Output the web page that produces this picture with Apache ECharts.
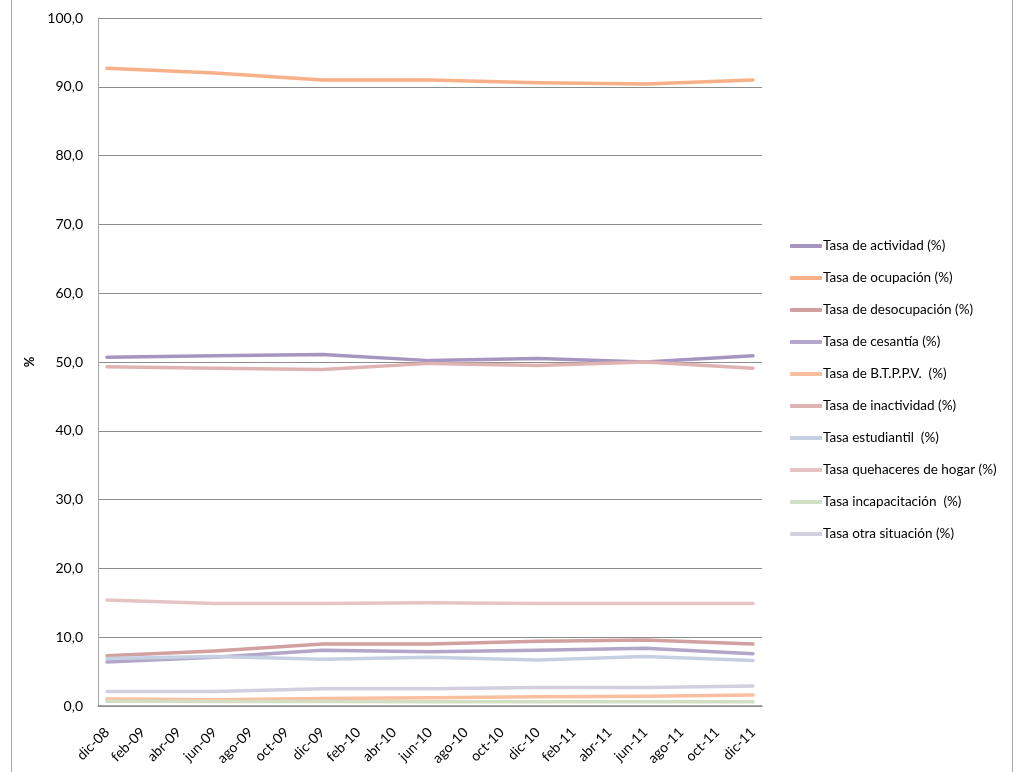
<!DOCTYPE html>
<html>
<head>
<meta charset="utf-8">
<script src="https://cdn.jsdelivr.net/npm/echarts@6/dist/echarts.min.js"></script>
<style>
  html, body { margin: 0; padding: 0; background: #fff; }
  #wrap { position: relative; width: 1015px; height: 772px; }
  #chart { position: absolute; left: 0; top: 0; width: 1015px; height: 772px; }
  #frame { position: absolute; left: 11px; top: 0; width: 1000px; height: 772px;
           border-left: 1px solid #a6a6a6; border-right: 1px solid #a6a6a6; pointer-events: none; }
</style>
</head>
<body>
<div id="wrap"><div id="chart"></div><div id="frame"></div></div>
<script>
// Monthly categories (labels shown every 2 months), data every 6 months
const months = ['dic-08','ene-09','feb-09','mar-09','abr-09','may-09','jun-09','jul-09','ago-09','sep-09','oct-09','nov-09',
  'dic-09','ene-10','feb-10','mar-10','abr-10','may-10','jun-10','jul-10','ago-10','sep-10','oct-10','nov-10',
  'dic-10','ene-11','feb-11','mar-11','abr-11','may-11','jun-11','jul-11','ago-11','sep-11','oct-11','nov-11','dic-11'];
const obsMonths = ['dic-08','jun-09','dic-09','jun-10','dic-10','jun-11','dic-11'];

const seriesNames = ['Tasa de actividad (%)','Tasa de ocupación (%)','Tasa de desocupación (%)','Tasa de cesantía (%)',
  'Tasa de B.T.P.P.V.  (%)','Tasa de inactividad (%)','Tasa estudiantil  (%)','Tasa quehaceres de hogar (%)',
  'Tasa incapacitación  (%)','Tasa otra situación (%)'];

const actividad      = [50.7, 50.9, 51.1, 50.2, 50.5, 50.0, 50.9];
const ocupacion      = [92.7, 92.0, 91.0, 91.0, 90.6, 90.4, 91.0];
const desocupacion   = [7.3, 8.0, 9.0, 9.0, 9.4, 9.6, 9.0];
const cesantia       = [6.4, 7.1, 8.1, 7.9, 8.1, 8.4, 7.6];
const btppv          = [1.0, 0.9, 1.1, 1.2, 1.35, 1.4, 1.6];
const inactividad    = [49.3, 49.1, 48.9, 49.8, 49.5, 50.0, 49.1];
const estudiantil    = [6.9, 7.2, 6.8, 7.1, 6.7, 7.2, 6.6];
const quehaceres     = [15.4, 14.9, 14.9, 15.0, 14.9, 14.9, 14.9];
const incapacitacion = [0.7, 0.65, 0.65, 0.6, 0.6, 0.6, 0.6];
const otraSituacion  = [2.1, 2.1, 2.5, 2.5, 2.7, 2.7, 2.9];

const colors = ['#a596c0','#f8b088','#d3a0a0','#b2a6c9','#f9bf9f','#e0b3b3','#c6d0e3','#e6c4c4','#d3dfc3','#d4cfe0'];

const allValues = [actividad, ocupacion, desocupacion, cesantia, btppv, inactividad, estudiantil, quehaceres, incapacitacion, otraSituacion];

function toMonthly(vals) {
  return months.map(m => { const i = obsMonths.indexOf(m); return i >= 0 ? vals[i] : null; });
}

const chart = echarts.init(document.getElementById('chart'), null, { renderer: 'canvas' });
const FONT = 'Lato';
chart.setOption({
  animation: false,
  color: colors,
  grid: { left: 98, right: 253, top: 18, bottom: 66, containLabel: false },
  legend: {
    orient: 'vertical', left: 785, top: 233,
    itemWidth: 32, itemHeight: 4, itemGap: 16,
    icon: 'roundRect',
    textStyle: { fontFamily: FONT, fontSize: 13.5, color: '#000', padding: [0,0,0,-4], lineHeight: 16 },
    data: seriesNames
  },
  xAxis: {
    type: 'category', data: months, boundaryGap: true,
    axisLine: { show: true, lineStyle: { color: '#8c8c8c', width: 1.5 } },
    axisTick: { show: false },
    axisLabel: { interval: 1, rotate: 45, fontFamily: FONT, fontSize: 14, color: '#000', margin: 24 },
    splitLine: { show: false }
  },
  yAxis: {
    type: 'value', min: 0, max: 100, interval: 10,
    name: '%', nameLocation: 'middle', nameGap: 52, nameRotate: 90,
    nameTextStyle: { fontFamily: FONT, fontSize: 13, fontWeight: 'bold', color: '#000' },
    axisLine: { show: true, lineStyle: { color: '#a6a6a6', width: 1 } },
    axisTick: { show: false },
    axisLabel: { fontFamily: FONT, fontSize: 14, color: '#000', margin: 15,
      formatter: v => v.toFixed(1).replace('.', ',') },
    splitLine: { show: true, lineStyle: { color: '#8c8c8c', width: 1 } }
  },
  series: seriesNames.map((n, i) => ({
    name: n, type: 'line', data: toMonthly(allValues[i]), connectNulls: true,
    showSymbol: false, symbol: 'none',
    lineStyle: { width: 3.5, color: colors[i], cap: 'round', join: 'round' },
    itemStyle: { color: colors[i] }
  }))
});
</script>
</body>
</html>
